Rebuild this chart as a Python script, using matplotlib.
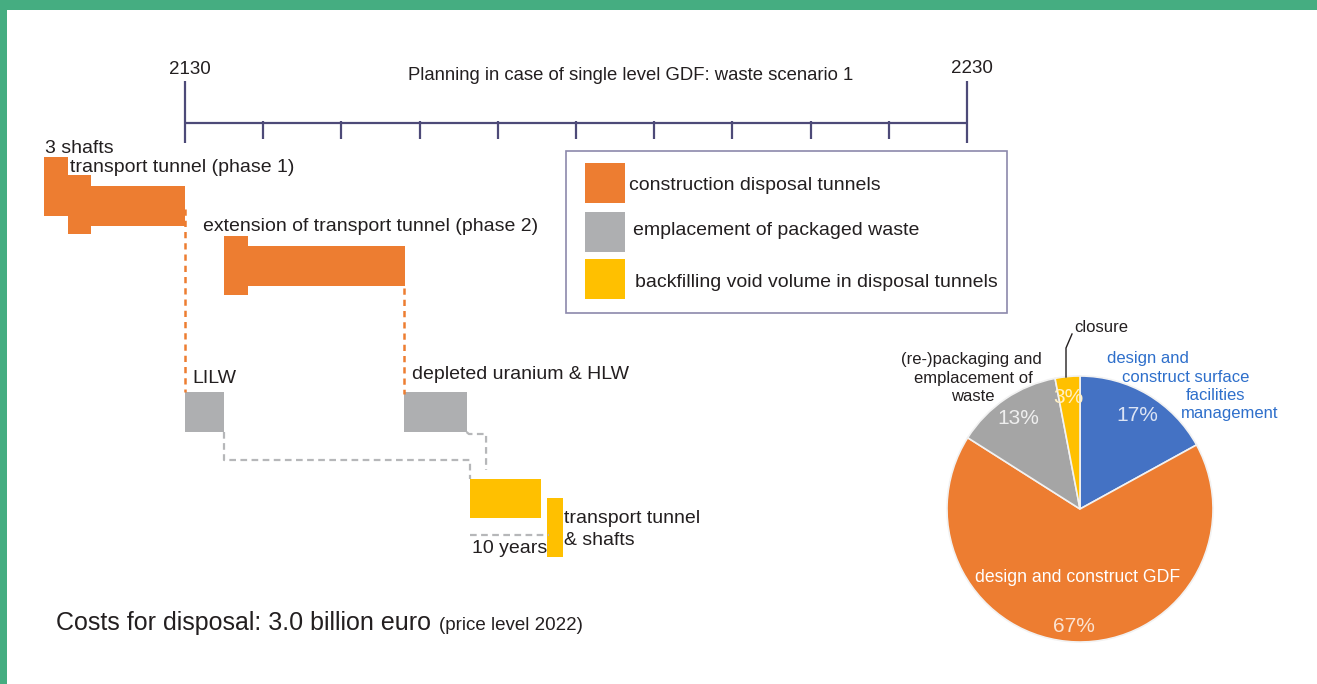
import matplotlib
matplotlib.use("Agg")
import matplotlib.pyplot as plt
from matplotlib.patches import Rectangle

plt.rcParams['font.family'] = ['Liberation Sans', 'DejaVu Sans']

# --- data -------------------------------------------------------------
years_start, years_end = 2130, 2230
tick_years = list(range(2130, 2231, 10))

task_names = ["3 shafts", "shaft", "transport tunnel (phase 1)",
              "shaft (phase 2)", "extension of transport tunnel (phase 2)",
              "LILW", "depleted uranium & HLW",
              "backfilling disposal tunnels", "transport tunnel & shafts"]
task_start = [2112, 2115, 2118, 2135, 2138, 2130, 2158, 2166.5, 2176.3]
task_end = [2115, 2118, 2130, 2138, 2158.1, 2135, 2166, 2175.5, 2178.3]
task_kind = ["construction", "construction", "construction", "construction",
             "construction", "emplacement", "emplacement", "backfill", "backfill"]

kind_labels = {"construction": "construction disposal tunnels",
               "emplacement": "emplacement of packaged waste",
               "backfill": "backfilling void volume in disposal tunnels"}

cost_labels = ["design and construct surface facilities management",
               "design and construct GDF",
               "(re-)packaging and emplacement of waste", "closure"]
cost_shares = [17, 67, 13, 3]

# --- styles / layout --------------------------------------------------
W, H = 1317, 684
PX_YEAR = 7.82          # pixels per year on the timeline
X2130 = 185             # pixel position of 2130
TXT = "#231F20"
kind_colors = {"construction": "#ED7D31", "emplacement": "#AEAFB1", "backfill": "#FFC000"}
pie_colors = ["#4472C4", "#ED7D31", "#A5A5A5", "#FFC000"]
# bar top (px) and bar height (px) for each task row
row_top = [157, 175, 186, 236, 246, 392, 392, 479, 498]
row_h = [59, 59, 40, 59, 40, 40, 40, 39, 59]

fig = plt.figure(figsize=(W / 100, H / 100), dpi=100)
fig.patch.set_facecolor("white")

# gantt axes: x in years, y in pixels
ax = fig.add_axes([0, 0, 1, 1], zorder=1)
ax.set_xlim(years_start - X2130 / PX_YEAR, years_start + (W - X2130) / PX_YEAR)
ax.set_ylim(H, 0)
ax.axis("off")

# timeline
line_c = "#4D4A78"
ax.hlines(123, years_start, years_end, color=line_c, lw=1.6)
for y in tick_years:
    if y in (years_start, years_end):
        ax.vlines(y, 81, 143, color=line_c, lw=1.6)
    else:
        ax.vlines(y, 121, 139, color=line_c, lw=1.6)
ax.text(years_start + 0.6, 74, str(years_start), ha="center", va="baseline", fontsize=13.5, color=TXT)
ax.text(years_end + 0.6, 73, str(years_end), ha="center", va="baseline", fontsize=13.5, color=TXT)

# bars
for s, e, k, top, h in zip(task_start, task_end, task_kind, row_top, row_h):
    ax.bar(s, h, width=e - s, bottom=top, align="edge", color=kind_colors[k], lw=0)

# orange dotted connectors from construction end to emplacement start
orange = kind_colors["construction"]
ax.vlines(task_end[2], 209, 392, color=orange, lw=1.8, linestyles=(0, (2.5, 2)))
ax.vlines(task_end[4] - 0.15, 288, 394, color=orange, lw=1.8, linestyles=(0, (2.5, 2)))

# gray dashed connectors from emplacement to backfilling
gc = "#B6B7B9"
dash = (0, (3, 2))
ax.plot([task_end[5], task_end[5], task_start[7], task_start[7]], [432, 460, 460, 479],
        color=gc, lw=1.6, linestyle=dash)
ax.plot([task_end[6], task_end[6] + 0.3, task_end[6] + 2.5, task_end[6] + 2.5], [432, 434, 434, 470],
        color=gc, lw=1.6, linestyle=dash)
ax.plot([task_start[7], task_start[7] + 10], [535, 535], color=gc, lw=1.6, linestyle=dash)

# pie chart
pax = fig.add_axes([(1080 - 133) / W, (H - 509 - 133) / H, 266 / W, 266 / H], zorder=2)
pax.pie(cost_shares, colors=pie_colors, startangle=90, counterclock=False, radius=1,
        wedgeprops=dict(edgecolor="#F2F2F2", linewidth=1.2))
pax.set_xlim(-1, 1)
pax.set_ylim(-1, 1)
pax.set_aspect("equal")
pax.axis("off")

# overlay axes in pixel coordinates for texts / frame
ov = fig.add_axes([0, 0, 1, 1], zorder=3)
ov.set_xlim(0, W)
ov.set_ylim(H, 0)
ov.axis("off")

green = "#45AD81"
ov.add_patch(Rectangle((0, 0), W, 10, color=green, lw=0))
ov.add_patch(Rectangle((0, 0), 6.5, H, color=green, lw=0))

ov.text(631, 80, "Planning in case of single level GDF: waste scenario 1",
        ha="center", va="baseline", fontsize=13.3, color=TXT)

# bar labels
lab = dict(fontsize=14, color=TXT, va="baseline", ha="left")
ov.text(45, 153, task_names[0], **lab)
ov.text(70, 172, task_names[2], **lab)
ov.text(203, 231, task_names[4], **lab)
ov.text(192, 383, task_names[5], **lab)
ov.text(412, 379, task_names[6], **lab)
ov.text(564, 523, "transport tunnel", **lab)
ov.text(564, 545, "& shafts", **lab)
ov.text(472, 553, "10 years", **lab)

ov.text(56, 630, "Costs for disposal: 3.0 billion euro", fontsize=18, color=TXT, va="baseline")
ov.text(439, 630, "(price level 2022)", fontsize=13.5, color=TXT, va="baseline")

# legend box
ov.add_patch(Rectangle((566, 151), 441, 162, fill=False, edgecolor="#8C89AC", lw=1.2))
leg_y = [163, 212, 259]
leg_tx = [(629, 190), (633, 235), (635, 287)]
for k, y0, (tx, ty) in zip(["construction", "emplacement", "backfill"], leg_y, leg_tx):
    ov.add_patch(Rectangle((585, y0), 40, 40, color=kind_colors[k], lw=0))
    ov.text(tx, ty, kind_labels[k], **lab)

# pie labels
blue_t = "#2E6FCB"
pl = dict(fontsize=12, va="baseline")
ov.text(1107, 363, "design and", color=blue_t, ha="left", **pl)
ov.text(1122, 382, "construct surface", color=blue_t, ha="left", **pl)
ov.text(1186, 400, "facilities", color=blue_t, ha="left", **pl)
ov.text(1181, 418, "management", color=blue_t, ha="left", **pl)
ov.text(1042, 364, "(re-)packaging and", color=TXT, ha="right", **pl)
ov.text(1033, 383, "emplacement of", color=TXT, ha="right", **pl)
ov.text(973, 401, "waste", color=TXT, ha="center", **pl)
ov.text(1074, 332, "closure", color=TXT, ha="left", **pl)
ov.plot([1072, 1066, 1066], [334, 348, 377], color=TXT, lw=1)

ov.text(1078, 582, "design and construct GDF", color="white", ha="center", fontsize=12.7, va="baseline")
pct = dict(fontsize=15, ha="center", va="baseline")
ov.text(1137, 421, f"{cost_shares[0]}%", color="#DCE4F4", **pct)
ov.text(1074, 632, f"{cost_shares[1]}%", color="#FBE3D2", **pct)
ov.text(1018, 424, f"{cost_shares[2]}%", color="#EFEFEF", **pct)
ov.text(1068, 403, f"{cost_shares[3]}%", color="#FFF0C4", **pct)

fig.savefig("out.png", dpi=100, facecolor="white")
